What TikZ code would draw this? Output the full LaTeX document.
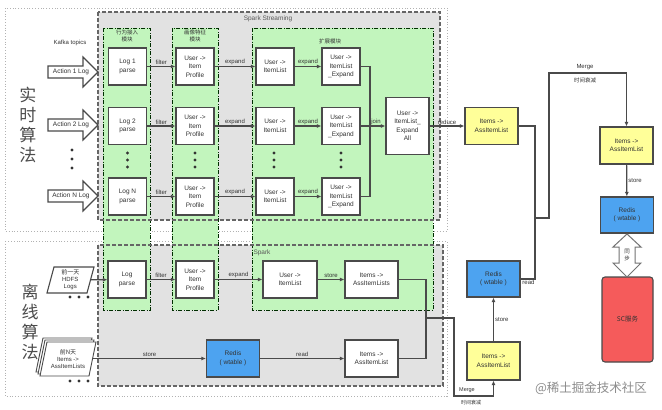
\documentclass[tikz,border=0pt]{standalone}
\usepackage{fontspec}
\setmainfont{Liberation Sans}
\newfontfamily\cjk{Noto Sans CJK SC}
\usetikzlibrary{arrows.meta}
\definecolor{grn}{HTML}{C2F5BD}
\definecolor{sparkgray}{HTML}{E2E2E2}
\definecolor{redisblue}{HTML}{4DA3F0}
\definecolor{yel}{HTML}{FFFF99}
\definecolor{scred}{HTML}{F55B5B}
\definecolor{ln}{HTML}{4A4A4A}
\definecolor{txt}{HTML}{333333}
\newcommand{\arr}{-{}>}
\begin{document}
\begin{tikzpicture}[x=1pt,y=-1pt,
  box/.style={draw=ln, line width=1.1pt, fill=white, minimum width=38pt, minimum height=37pt, inner sep=1pt, align=center, font=\fontsize{6.5}{8.5}\selectfont, text=txt},
  wbox/.style={box, minimum width=53pt},
  conn/.style={draw=ln, line width=1.2pt, -{Latex[length=4.5pt,width=4pt]}},
  wire/.style={draw=ln, line width=1.2pt},
  elab/.style={font=\fontsize{6}{7}\selectfont, text=txt, inner sep=1pt},
  clab/.style={font=\cjk\fontsize{5.5}{7}\selectfont, text=txt, align=center, inner sep=0pt},
  blob/.style={fill=black!80},
  outerbd/.style={draw=black!30, dotted, line width=0.8pt, fill=white},
  sparkbd/.style={draw=black!60, dashed, dash pattern=on 4pt off 2pt, line width=1.1pt},
  grnbd/.style={draw=black!55!green!40!black, dash pattern=on 4pt off 1.5pt on 1pt off 1.5pt, line width=0.9pt, fill=grn},
  bigcjk/.style={font=\cjk\fontsize{17}{20}\selectfont, text=black!70, align=center},
  hollow/.style={draw=ln, line width=1.1pt, fill=white},
]
\useasboundingbox (0,0) rectangle (662,410);
\fill[white] (0,0) rectangle (662,410);

% outer boxes
\draw[outerbd] (5,8) rectangle (447,231);
\draw[outerbd] (5,241) rectangle (447,396);
% spark fills
\fill[sparkgray] (98,12) rectangle (440,220);
\fill[sparkgray] (98,245) rectangle (443,386);
% green columns
\draw[grnbd] (103,28) rectangle (150,310);
\draw[grnbd] (172,28) rectangle (218,310);
\draw[grnbd] (252,28) rectangle (433,310);
% spark borders
\draw[sparkbd] (98,12) rectangle (440,220);
\draw[sparkbd] (98,245) rectangle (443,386);

\node[font=\fontsize{6.5}{8}\selectfont, text=black!65] (ss) at (268,19) {Spark Streaming};
\node[font=\fontsize{6.5}{8}\selectfont, text=black!65] (sp) at (262,253) {Spark};
\node[clab] (c1) at (127,36) {行为接入\\模块};
\node[clab] (c2) at (195,36) {画像特征\\模块};
\node[clab] (c3) at (330,41) {扩展模块};
\node[font=\fontsize{6}{7}\selectfont, text=txt] (kt) at (70,43) {Kafka topics};

\node[bigcjk] (rt) at (28,125) {实\\时\\算\\法};
\node[bigcjk] (off) at (30,322) {离\\线\\算\\法};

% action arrows
\foreach \c/\n/\t in {72/a1/Action 1 Log, 125/a2/Action 2 Log, 196/aN/Action N Log}{
  \draw[hollow] (48,\c-6) -- (83,\c-6) -- (83,\c-15) -- (98,\c) -- (83,\c+15) -- (83,\c+6) -- (48,\c+6) -- cycle;
  \node[font=\fontsize{6.5}{8}\selectfont, text=txt, inner sep=0pt] (\n) at (71,\c) {\t};
}
\foreach \y in {150,159,168}{\fill[blob] (72,\y) circle (1.7);}

% realtime row boxes
\node[box] (log1) at (127.5,66.5) {Log 1\\parse};
\node[box] (log2) at (127.5,126) {Log 2\\parse};
\node[box] (logN) at (127.5,196.5) {Log N\\parse};
\node[box] (pr1) at (195,66.5) {User \arr\\Item\\Profile};
\node[box] (pr2) at (195,126) {User \arr\\Item\\Profile};
\node[box] (prN) at (195,196.5) {User \arr\\Item\\Profile};
\node[box] (il1) at (275,66.5) {User \arr\\ItemList};
\node[box] (il2) at (275,126) {User \arr\\ItemList};
\node[box] (ilN) at (275,196.5) {User \arr\\ItemList};
\node[box] (ex1) at (341,66.5) {User \arr\\ItemList\\\_Expand};
\node[box] (ex2) at (341,126) {User \arr\\ItemList\\\_Expand};
\node[box] (exN) at (341,196.5) {User \arr\\ItemList\\\_Expand};
\node[box, minimum width=43pt, minimum height=57pt] (all) at (407.5,126) {User \arr\\ItemList\_\\Expand\\All};

\foreach \x in {127.5,195,274,341}{\foreach \y in {153,160,167}{\fill[blob] (\x,\y) circle (1.7);}}

\foreach \r in {1,2,N}{
  \draw[conn] (log\r) -- node[elab,above]{filter} (pr\r);
  \draw[conn] (pr\r) -- node[elab,above]{expand} (il\r);
  \draw[conn] (il\r) -- node[elab,above]{expand} (ex\r);
}
\coordinate (jx) at (370,126);
\draw[wire] (ex1.east) -| (jx);
\draw[wire] (exN.east) -| (jx);
\draw[conn] (ex2) -- node[elab,above,pos=0.62]{join} (all);

% right column
\node[wbox, fill=yel] (y1) at (491.5,126) {Items \arr\\AssItemList};
\draw[conn] (all) -- node[elab,above]{reduce} (y1);
\node[wbox, fill=yel] (y2) at (626.5,145.5) {Items \arr\\AssItemList};
\node[wbox, fill=redisblue, minimum height=36pt] (rR) at (627,215) {Redis\\( wtable )};
\node[box, fill=scred, minimum width=51pt, minimum height=85pt, rounded corners=3pt, font=\cjk\fontsize{6.5}{8}\selectfont] (sc) at (627.5,319.5) {SC服务};
\draw[conn] (y2) -- node[elab,right]{store} (rR);
\draw[hollow, line width=1pt, draw=black!55] (627,234) -- (641,247) -- (635,247) -- (635,263) -- (641,263) -- (627,277) -- (613,263) -- (619,263) -- (619,247) -- (613,247) -- cycle;
\node[clab, font=\cjk\fontsize{5.5}{6.5}\selectfont] (sync) at (627,255) {同\\步};

\node[wbox, fill=redisblue, minimum height=36pt] (rM) at (493.5,279) {Redis\\( wtable )};
\node[wbox, fill=yel, minimum height=38pt] (y3) at (493.5,361) {Items \arr\\AssItemList};
\draw[conn] (y3) -- node[elab,right]{store} (rM);

\coordinate (mj) at (535,218);
\draw[wire] (y1.east) -| (mj);
\draw[wire] (rM.east) -- node[elab,below,pos=0.55]{read} (535,279) -- (mj);
\draw[conn] (mj) -- (549,218) -- (549,73) -| (y2.north);
\node[elab] (mg1) at (585,67) {Merge};
\node[clab] (mg2) at (585,80) {时间衰减};

% offline
\draw[hollow] (47,293) -- (87,293) -- (94,267) -- (54,267) -- cycle;
\node[font=\fontsize{6}{7}\selectfont, text=txt, align=center, inner sep=0pt, minimum width=40.5pt] (hdfs) at (70.25,280) {{\cjk 前一天}\\HDFS\\Logs};
\foreach \x in {70,79,88}{\fill[blob] (\x,297) circle (1.7);}

\foreach \dx in {-4,-2,0}{
  \draw[hollow, line width=0.9pt] (40+\dx,376+\dx) -- (89+\dx,376+\dx) -- (96+\dx,342+\dx) -- (47+\dx,342+\dx) -- cycle;
}
\node[font=\fontsize{6}{7}\selectfont, text=txt, align=center, inner sep=0pt, minimum width=50pt] (hist) at (68,359) {{\cjk 前N天}\\Items \arr\\AssItemLists};
\foreach \x in {70,79,88}{\fill[blob] (\x,381) circle (1.7);}

\node[box] (logO) at (127,279.5) {Log\\parse};
\node[box] (prO) at (195,279.5) {User \arr\\Item\\Profile};
\node[box, minimum width=54pt] (ilO) at (290,279.5) {User \arr\\ItemList};
\node[wbox] (asO) at (371.5,279.5) {Items \arr\\AssItemLists};
\node[wbox, fill=redisblue] (rO) at (233,358.5) {Redis\\( wtable )};
\node[wbox] (asO2) at (371.5,358.5) {Items \arr\\AssItemList};

\draw[conn] (hdfs) -- (logO);
\draw[conn] (logO) -- node[elab,above]{filter} (prO);
\draw[conn] (prO) -- node[elab,above]{expand} (ilO);
\draw[conn] (ilO) -- node[elab,above]{store} (asO);
\draw[conn] (hist.east |- rO) -- node[elab,above]{store} (rO);
\draw[conn] (rO) -- node[elab,above]{read} (asO2);

\coordinate (bj) at (426,318);
\draw[wire] (asO.east) -| (bj);
\draw[wire] (asO2.east) -| (bj);
\draw[conn] (bj) -- (454,318) -- (454,396) -| (y3.south);
\node[elab, font=\fontsize{5.5}{6}\selectfont] (mg3) at (467,390) {Merge};
\node[clab, font=\cjk\fontsize{5}{6}\selectfont] (mg4) at (471,403) {时间衰减};

\node[font=\cjk\fontsize{12.5}{14}\selectfont, text=black!45] (wm) at (591,388) {@稀土掘金技术社区};
\end{tikzpicture}
\end{document}
